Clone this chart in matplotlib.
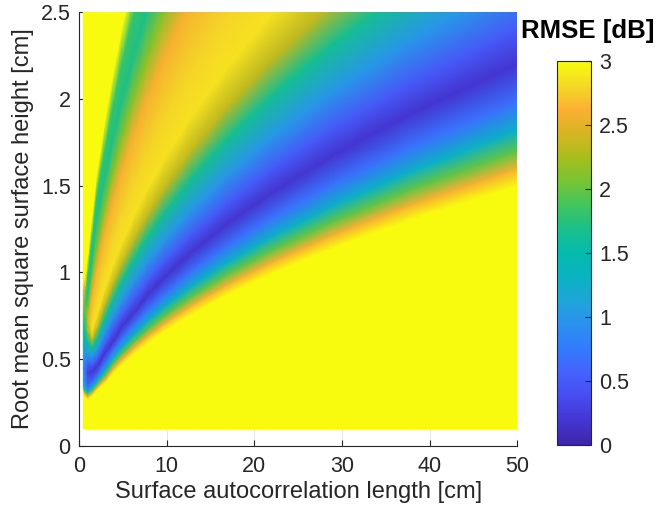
import numpy as np
import matplotlib
matplotlib.use("Agg")
import matplotlib.pyplot as plt
from matplotlib.colors import LinearSegmentedColormap

plt.rcParams['font.family'] = ['Liberation Sans', 'DejaVu Sans']

# ---- data ----
# autocorrelation length columns [cm]
corr_len = [0.5, 0.75, 1, 1.5, 2, 3, 4, 5, 6.5, 8, 10, 13, 17, 22, 29, 38, 50]

# rms height [cm] at which each RMSE iso-feature sits, for every column above
s_bottom   = [0.1, 0.1, 0.1, 0.1, 0.1, 0.1, 0.1, 0.1, 0.1, 0.1, 0.1, 0.1, 0.1, 0.1, 0.1, 0.1, 0.1]
s_lowedge  = [0.30, 0.28, 0.27, 0.29, 0.32, 0.365, 0.424, 0.474, 0.54, 0.60, 0.670, 0.764, 0.874, 0.994, 1.142, 1.307, 1.499]
s_low26    = [0.32, 0.295, 0.285, 0.305, 0.335, 0.385, 0.452, 0.505, 0.576, 0.639, 0.715, 0.815, 0.932, 1.06, 1.217, 1.393, 1.598]
s_low20    = [0.335, 0.31, 0.30, 0.32, 0.35, 0.41, 0.48, 0.537, 0.612, 0.679, 0.759, 0.865, 0.99, 1.126, 1.292, 1.479, 1.697]
s_low13    = [0.35, 0.325, 0.315, 0.34, 0.37, 0.44, 0.514, 0.575, 0.655, 0.727, 0.813, 0.927, 1.06, 1.205, 1.384, 1.584, 1.817]
s_low07    = [0.38, 0.35, 0.34, 0.37, 0.40, 0.48, 0.56, 0.626, 0.714, 0.792, 0.885, 1.01, 1.154, 1.313, 1.508, 1.726, 1.98]
s_valley   = [0.45, 0.42, 0.42, 0.43, 0.455, 0.54, 0.61, 0.695, 0.78, 0.88, 0.983, 1.121, 1.282, 1.459, 1.675, 1.917, 2.199]
s_up05     = [0.52, 0.48, 0.47, 0.47, 0.495, 0.59, 0.68, 0.76, 0.862, 0.962, 1.075, 1.226, 1.402, 1.595, 1.831, 2.096, 2.404]
s_up10     = [0.58, 0.55, 0.53, 0.52, 0.55, 0.66, 0.76, 0.85, 0.969, 1.075, 1.202, 1.37, 1.567, 1.782, 2.046, 2.342, 2.687]
s_up165    = [0.66, 0.62, 0.60, 0.575, 0.615, 0.745, 0.86, 0.962, 1.096, 1.216, 1.36, 1.55, 1.773, 2.017, 2.316, 2.651, 3.041]
s_up235    = [0.72, 0.68, 0.66, 0.62, 0.675, 0.823, 0.95, 1.062, 1.211, 1.344, 1.502, 1.713, 1.958, 2.228, 2.558, 2.928, 3.359]
s_up285    = [0.76, 0.72, 0.71, 0.67, 0.75, 0.918, 1.06, 1.185, 1.351, 1.499, 1.676, 1.911, 2.185, 2.486, 2.854, 3.267, 3.748]
s_ridge    = [0.80, 0.75, 0.74, 0.74, 0.849, 1.04, 1.2, 1.342, 1.53, 1.697, 1.897, 2.163, 2.474, 2.814, 3.231, 3.699, 4.243]
s_ridge26  = [0.84, 0.78, 0.77, 0.88, 1.018, 1.247, 1.44, 1.61, 1.836, 2.036, 2.277, 2.596, 2.969, 3.377, 3.877, 4.438, 5.091]
s_ridge23  = [0.87, 0.81, 0.80, 0.98, 1.131, 1.386, 1.6, 1.789, 2.04, 2.263, 2.53, 2.884, 3.298, 3.752, 4.308, 4.932, 5.657]
s_valley2  = [0.90, 0.85, 0.88, 1.10, 1.32, 1.56, 1.8, 2.012, 2.295, 2.546, 2.846, 3.245, 3.711, 4.221, 4.847, 5.548, 6.364]
s_up2_21   = [0.93, 0.92, 1.00, 1.22, 1.45, 1.73, 2.0, 2.236, 2.55, 2.828, 3.162, 3.606, 4.123, 4.69, 5.385, 6.164, 7.071]
s_topedge  = [0.96, 1.00, 1.10, 1.335, 1.56, 1.89, 2.18, 2.437, 2.779, 3.083, 3.447, 3.93, 4.494, 5.113, 5.87, 6.719, 7.708]
s_top      = [2.5, 2.5, 2.5, 2.5, 2.5, 2.5, 2.5, 2.5, 8, 8, 8, 8, 8, 8, 8, 8, 8]

# RMSE [dB] on each of those features, same column order
v_bottom   = [3, 3, 3, 3, 3, 3, 3, 3, 3, 3, 3, 3, 3, 3, 3, 3, 3]
v_lowedge  = [3, 3, 3, 3, 3, 3, 3, 3, 3, 3, 3, 3, 3, 3, 3, 3, 3]
v_low26    = [2.6, 2.6, 2.6, 2.6, 2.6, 2.6, 2.6, 2.6, 2.6, 2.6, 2.6, 2.6, 2.6, 2.6, 2.6, 2.6, 2.6]
v_low20    = [2.0, 2.0, 2.0, 2.0, 2.0, 2.0, 2.0, 2.0, 2.0, 2.0, 2.0, 2.0, 2.0, 2.0, 2.0, 2.0, 2.0]
v_low13    = [1.5, 1.3, 1.3, 1.3, 1.3, 1.3, 1.3, 1.3, 1.3, 1.3, 1.3, 1.3, 1.3, 1.3, 1.3, 1.3, 1.3]
v_low07    = [1.2, 0.9, 0.7, 0.7, 0.7, 0.7, 0.7, 0.7, 0.7, 0.7, 0.7, 0.7, 0.7, 0.7, 0.7, 0.7, 0.7]
v_valley   = [1.0, 0.6, 0.3, 0.18, 0.18, 0.18, 0.18, 0.18, 0.18, 0.18, 0.18, 0.18, 0.18, 0.18, 0.18, 0.18, 0.18]
v_up05     = [1.1, 0.8, 0.5, 0.5, 0.5, 0.5, 0.5, 0.5, 0.5, 0.5, 0.5, 0.5, 0.5, 0.5, 0.5, 0.5, 0.5]
v_up10     = [1.3, 1.1, 1.0, 1.0, 1.0, 1.0, 1.0, 1.0, 1.0, 1.0, 1.0, 1.0, 1.0, 1.0, 1.0, 1.0, 1.0]
v_up165    = [1.6, 1.5, 1.65, 1.65, 1.65, 1.65, 1.65, 1.65, 1.65, 1.65, 1.65, 1.65, 1.65, 1.65, 1.65, 1.65, 1.65]
v_up235    = [1.8, 1.75, 2.2, 2.35, 2.35, 2.35, 2.35, 2.35, 2.35, 2.35, 2.35, 2.35, 2.35, 2.35, 2.35, 2.35, 2.35]
v_up285    = [1.95, 1.85, 2.4, 2.85, 2.85, 2.85, 2.85, 2.85, 2.85, 2.85, 2.85, 2.85, 2.85, 2.85, 2.85, 2.85, 2.85]
v_ridge    = [2.1, 1.9, 2.4, 2.8, 2.8, 2.8, 2.8, 2.8, 2.8, 2.8, 2.8, 2.8, 2.8, 2.8, 2.8, 2.8, 2.8]
v_ridge26  = [2.35, 1.9, 2.3, 2.6, 2.6, 2.6, 2.6, 2.6, 2.6, 2.6, 2.6, 2.6, 2.6, 2.6, 2.6, 2.6, 2.6]
v_ridge23  = [2.5, 1.85, 2.1, 2.15, 2.15, 2.15, 2.15, 2.15, 2.15, 2.15, 2.15, 2.15, 2.15, 2.15, 2.15, 2.15, 2.15]
v_valley2  = [2.65, 1.85, 1.7, 1.7, 1.7, 1.7, 1.7, 1.7, 1.7, 1.7, 1.7, 1.7, 1.7, 1.7, 1.7, 1.7, 1.7]
v_up2_21   = [2.85, 2.25, 1.85, 1.85, 1.85, 1.85, 1.85, 1.85, 1.85, 1.85, 1.85, 1.85, 1.85, 1.85, 1.85, 1.85, 1.85]
v_topedge  = [3, 3, 3, 3, 3, 3, 3, 3, 3, 3, 3, 3, 3, 3, 3, 3, 3]
v_top      = [3, 3, 3, 3, 3, 3, 3, 3, 3, 3, 3, 3, 3, 3, 3, 3, 3]

feature_s = [s_bottom, s_lowedge, s_low26, s_low20, s_low13, s_low07, s_valley, s_up05, s_up10, s_up165,
             s_up235, s_up285, s_ridge, s_ridge26, s_ridge23, s_valley2, s_up2_21, s_topedge, s_top]
feature_v = [v_bottom, v_lowedge, v_low26, v_low20, v_low13, v_low07, v_valley, v_up05, v_up10, v_up165,
             v_up235, v_up285, v_ridge, v_ridge26, v_ridge23, v_valley2, v_up2_21, v_topedge, v_top]

x_ticks = [0, 10, 20, 30, 40, 50]
y_ticks = [0, 0.5, 1, 1.5, 2, 2.5]
cbar_ticks = [0, 0.5, 1, 1.5, 2, 2.5, 3]

# ---- parula-like colormap (style) ----
parula_anchors = [
    (0.0000, (0.2422, 0.1504, 0.6603)),
    (0.0625, (0.2691, 0.2094, 0.8249)),
    (0.1250, (0.2813, 0.2985, 0.9397)),
    (0.1875, (0.2710, 0.3860, 0.9898)),
    (0.2500, (0.2006, 0.4803, 0.9906)),
    (0.3125, (0.1716, 0.5655, 0.9393)),
    (0.3750, (0.1253, 0.6453, 0.8521)),
    (0.4375, (0.0400, 0.7000, 0.7600)),
    (0.5000, (0.0200, 0.7300, 0.6800)),
    (0.5625, (0.1000, 0.7500, 0.5500)),
    (0.6250, (0.2534, 0.7727, 0.3700)),
    (0.6875, (0.4631, 0.7684, 0.2100)),
    (0.7500, (0.6485, 0.7467, 0.1096)),
    (0.8125, (0.8353, 0.7121, 0.1371)),
    (0.8750, (0.9853, 0.6888, 0.1967)),
    (0.9375, (0.9600, 0.8500, 0.1500)),
    (1.0000, (0.9763, 0.9831, 0.0538)),
]
parula = LinearSegmentedColormap.from_list('parula', parula_anchors, N=256)

X = np.tile(np.array(corr_len, dtype=float), (len(feature_s), 1))
Y = np.array(feature_s, dtype=float)
Z = np.array(feature_v, dtype=float)

fig = plt.figure(figsize=(6.58, 5.18), dpi=100)
ax = fig.add_axes([0.120, 0.139, 0.666, 0.838])
mesh = ax.pcolormesh(X, Y, Z, shading='gouraud', cmap=parula, vmin=0, vmax=3, zorder=1)

ax.set_xlim(0, 50)
ax.set_ylim(0, 2.5)
ax.set_xticks(x_ticks)
ax.set_yticks(y_ticks)
ax.set_xticklabels([f"{v:g}" for v in x_ticks])
ax.set_yticklabels([f"{v:g}" for v in y_ticks])
ax.set_axisbelow(True)
ax.grid(True, color='#e6e6e6', linewidth=0.8)
for side in ['top', 'right']:
    ax.spines[side].set_visible(False)
for side in ['left', 'bottom']:
    ax.spines[side].set_color('#262626')
    ax.spines[side].set_linewidth(0.8)
    ax.spines[side].set_zorder(3)
ax.tick_params(direction='in', length=4, width=0.8, colors='#262626', labelsize=15.5, labelcolor='#262626')
ax.tick_params(axis='x', pad=7)
ax.tick_params(axis='y', pad=6)
ax.set_xlabel('Surface autocorrelation length [cm]', fontsize=17, color='#262626', labelpad=3)
ax.set_ylabel('Root mean square surface height [cm]', fontsize=17, color='#262626', labelpad=5)

cax = fig.add_axes([0.8465, 0.141, 0.0517, 0.741])
cb = fig.colorbar(mesh, cax=cax, ticks=cbar_ticks)
cb.ax.set_yticklabels([f"{v:g}" for v in cbar_ticks])
cb.ax.tick_params(direction='in', length=4, width=0.8, colors='#262626', labelsize=15.5,
                  labelcolor='#262626', pad=6)
cb.outline.set_edgecolor('#262626')
cb.outline.set_linewidth(0.8)
fig.text(0.893, 0.940, 'RMSE [dB]', fontsize=18.5, fontweight='bold', ha='center', va='center', color='black')

fig.savefig('out.png', dpi=100)
